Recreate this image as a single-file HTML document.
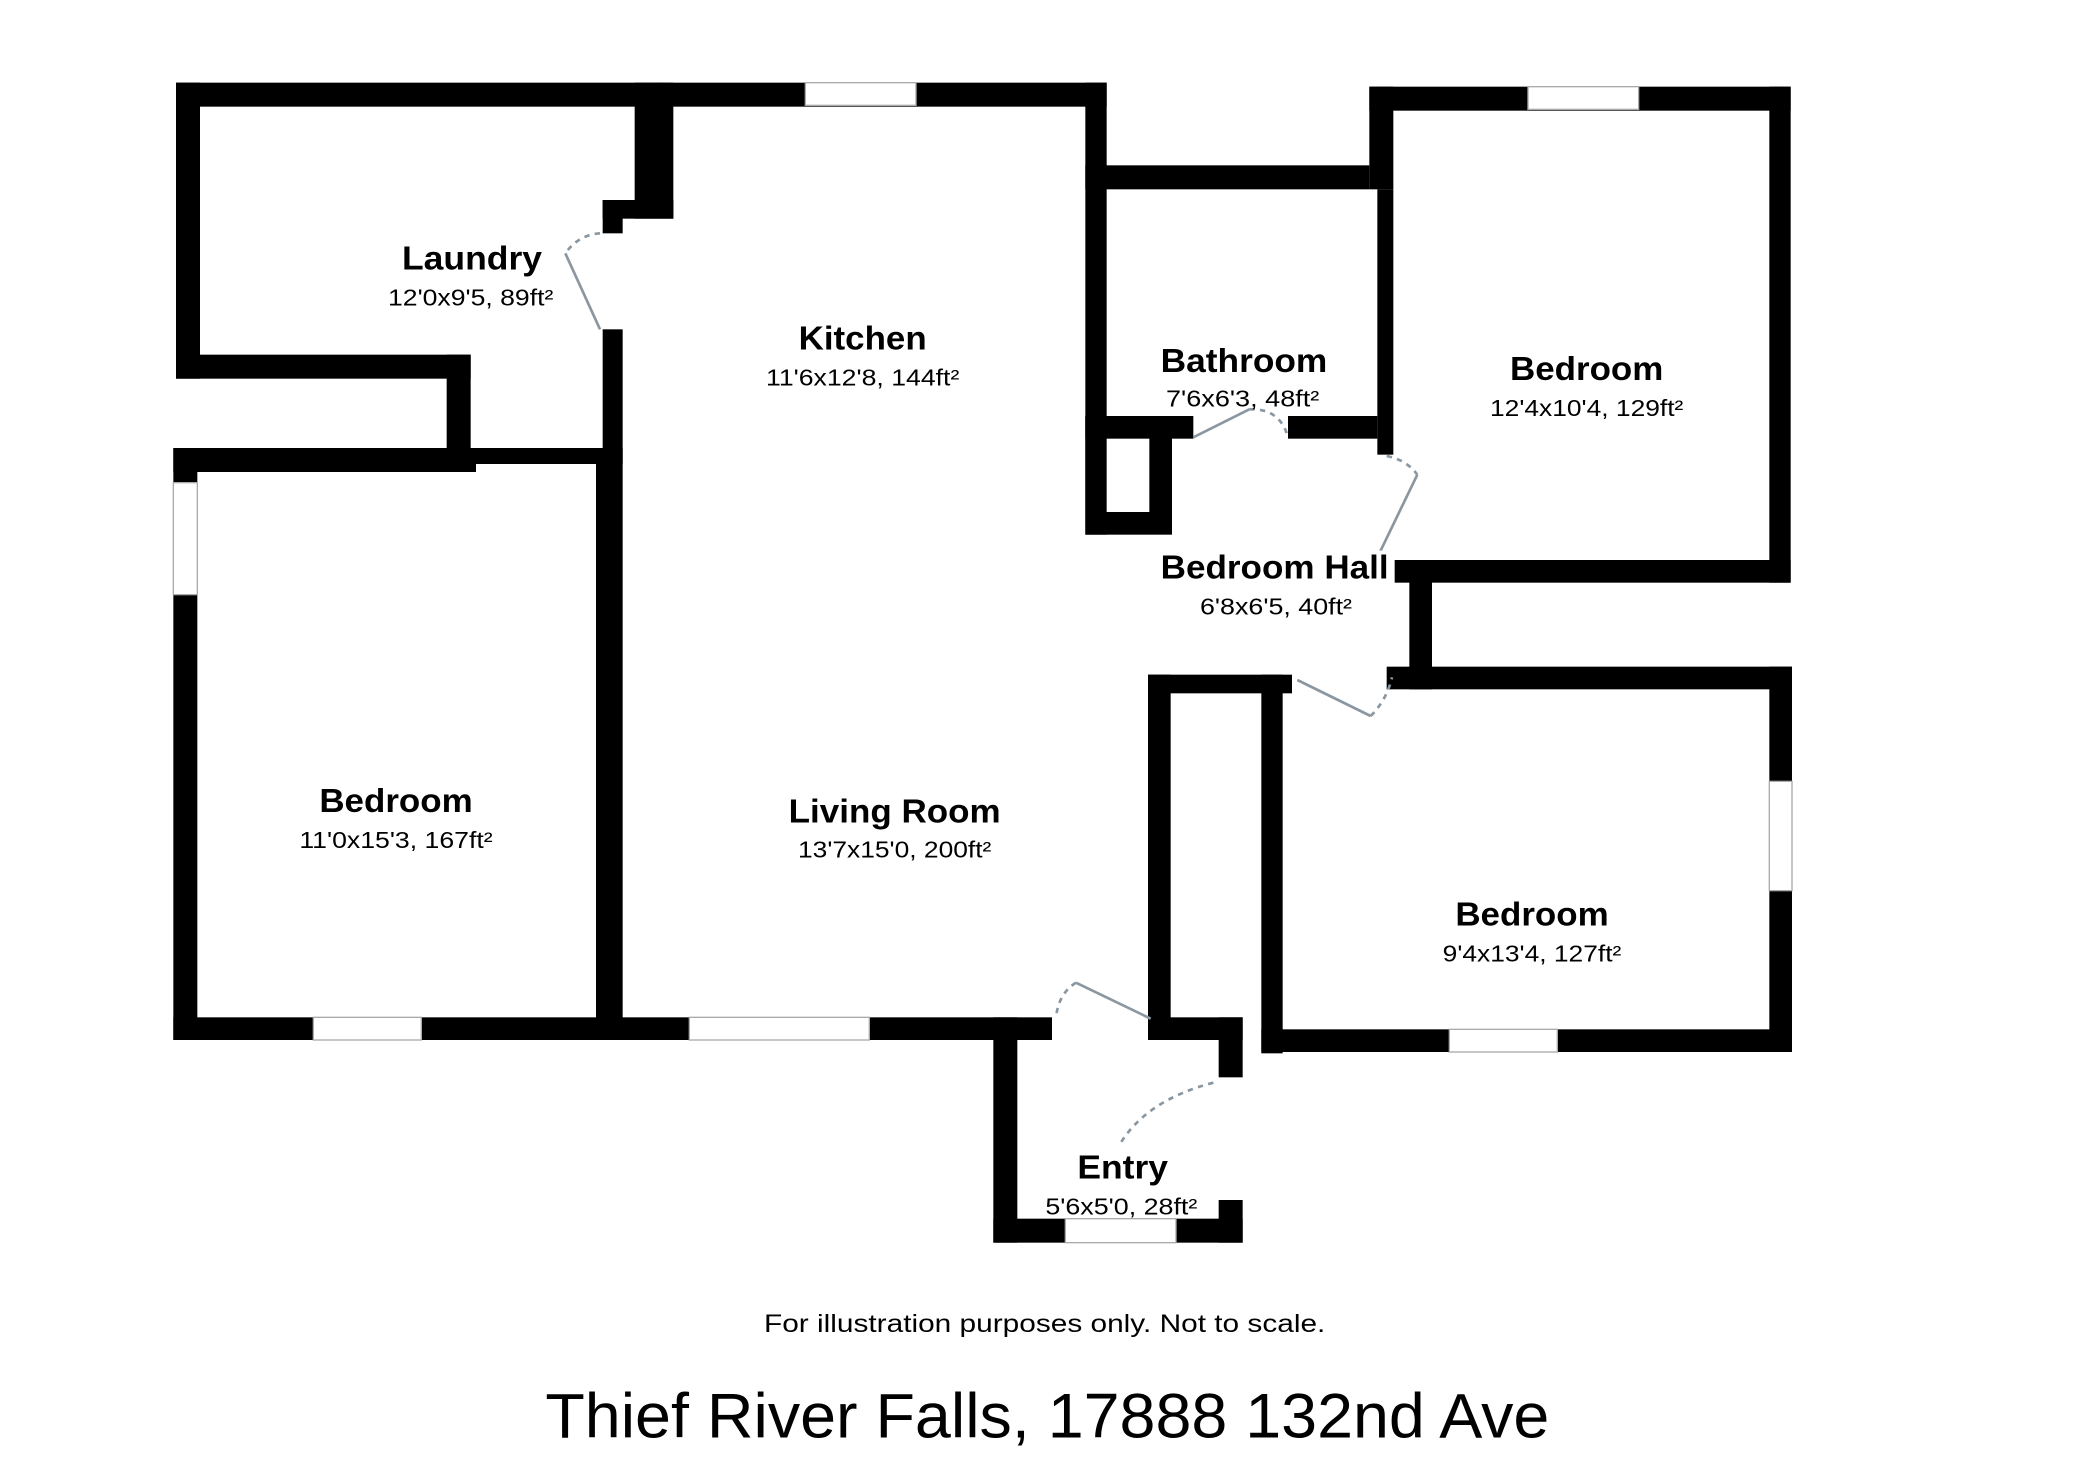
<!DOCTYPE html>
<html><head><meta charset="utf-8"><style>
html,body{margin:0;padding:0;background:#fff;}
svg{display:block;}
.b{font-family:"Liberation Sans",Arial,sans-serif;font-weight:bold;font-size:25px;fill:#000;}
.s{font-family:"Liberation Sans",Arial,sans-serif;font-size:17px;fill:#000;}
</style></head><body>
<svg width="2080" height="1471" viewBox="0 0 1560 1103.25" xmlns="http://www.w3.org/2000/svg">
<rect x="0" y="0" width="1560" height="1104" fill="#fff"/>
<g fill="#000">
<rect x="132" y="62" width="365" height="18"/>
<rect x="494" y="62" width="336" height="18"/>
<rect x="132" y="62" width="18" height="222"/>
<rect x="132" y="266" width="221" height="18"/>
<rect x="335" y="266" width="18" height="88"/>
<rect x="130" y="336" width="227" height="18"/>
<rect x="353" y="336" width="114" height="12"/>
<rect x="476" y="62" width="29" height="102"/>
<rect x="452" y="150" width="53" height="14"/>
<rect x="452" y="150" width="15" height="25"/>
<rect x="452" y="247" width="15" height="101"/>
<rect x="447" y="348" width="20" height="432"/>
<rect x="130" y="336" width="18" height="444"/>
<rect x="130" y="763" width="659" height="17"/>
<rect x="814" y="62" width="16" height="339"/>
<rect x="814" y="124" width="213" height="18"/>
<rect x="1027" y="65" width="316" height="18"/>
<rect x="1027" y="65" width="18" height="77"/>
<rect x="1033" y="142" width="12" height="199"/>
<rect x="1327" y="65" width="16" height="372"/>
<rect x="1032" y="420" width="311" height="17"/>
<rect x="814" y="312" width="81" height="17"/>
<rect x="966" y="312" width="67" height="17"/>
<rect x="814" y="312" width="65" height="89"/>
<rect x="1057" y="420" width="17" height="97"/>
<rect x="1040" y="500" width="304" height="17"/>
<rect x="861" y="506" width="108" height="14"/>
<rect x="861" y="506" width="17" height="273"/>
<rect x="946" y="506" width="16" height="284"/>
<rect x="861" y="763" width="71" height="17"/>
<rect x="914" y="763" width="18" height="45"/>
<rect x="1327" y="500" width="17" height="289"/>
<rect x="946" y="772" width="398" height="17"/>
<rect x="745" y="763" width="18" height="169"/>
<rect x="745" y="914" width="187" height="18"/>
<rect x="914" y="900" width="18" height="32"/>
</g>
<rect x="830" y="329" width="32" height="55" fill="#fff"/>
<g fill="#fff" stroke="#aaa" stroke-width="1">
<rect x="604" y="62" width="83" height="17"/>
<rect x="1146" y="65" width="83" height="17"/>
<rect x="130" y="362" width="18" height="84"/>
<rect x="235" y="763" width="81" height="17"/>
<rect x="517" y="763" width="135" height="17"/>
<rect x="1327" y="586" width="17" height="82"/>
<rect x="1087" y="772" width="81" height="17"/>
<rect x="799" y="914" width="83" height="18"/>
</g>
<g fill="none" stroke="#8a96a0" stroke-width="2">
<line x1="424" y1="190" x2="450" y2="247"/>
<path d="M450 175 Q434 176 424 190" stroke-dasharray="4 4"/>
<line x1="895" y1="328" x2="937" y2="307"/>
<path d="M937 307 Q960 306 966 328" stroke-dasharray="4 4"/>
<line x1="1063" y1="356" x2="1034" y2="416"/>
<path d="M1040 342 Q1055 345 1063 356" stroke-dasharray="4 4"/>
<line x1="973" y1="510" x2="1028" y2="537"/>
<path d="M1028 537 Q1040 525 1044 508" stroke-dasharray="4 4"/>
<line x1="807" y1="737" x2="863" y2="764"/>
<path d="M807 737 Q794 745 792 763" stroke-dasharray="4 4"/>
<path d="M910 812 Q860 825 840 858" stroke-dasharray="4 4"/>
</g>
<rect x="1028" y="413" width="18" height="29" rx="5" fill="#fff"/>
<g text-anchor="middle">
<text class="b" x="354" y="202" textLength="105" lengthAdjust="spacingAndGlyphs">Laundry</text>
<text class="s" x="353" y="229" textLength="124" lengthAdjust="spacingAndGlyphs">12'0x9'5, 89ft²</text>
<text class="b" x="647" y="262" textLength="96" lengthAdjust="spacingAndGlyphs">Kitchen</text>
<text class="s" x="647" y="289" textLength="145" lengthAdjust="spacingAndGlyphs">11'6x12'8, 144ft²</text>
<text class="b" x="933" y="279" textLength="125" lengthAdjust="spacingAndGlyphs">Bathroom</text>
<text class="s" x="932" y="305" textLength="115" lengthAdjust="spacingAndGlyphs">7'6x6'3, 48ft²</text>
<text class="b" x="1190" y="285" textLength="115" lengthAdjust="spacingAndGlyphs">Bedroom</text>
<text class="s" x="1190" y="312" textLength="145" lengthAdjust="spacingAndGlyphs">12'4x10'4, 129ft²</text>
<text class="b" x="956" y="434" textLength="171" lengthAdjust="spacingAndGlyphs">Bedroom Hall</text>
<text class="s" x="957" y="461" textLength="114" lengthAdjust="spacingAndGlyphs">6'8x6'5, 40ft²</text>
<text class="b" x="297" y="609" textLength="115" lengthAdjust="spacingAndGlyphs">Bedroom</text>
<text class="s" x="297" y="636" textLength="145" lengthAdjust="spacingAndGlyphs">11'0x15'3, 167ft²</text>
<text class="b" x="671" y="617" textLength="159" lengthAdjust="spacingAndGlyphs">Living Room</text>
<text class="s" x="671" y="643" textLength="145" lengthAdjust="spacingAndGlyphs">13'7x15'0, 200ft²</text>
<text class="b" x="1149" y="694" textLength="115" lengthAdjust="spacingAndGlyphs">Bedroom</text>
<text class="s" x="1149" y="721" textLength="134" lengthAdjust="spacingAndGlyphs">9'4x13'4, 127ft²</text>
<text class="b" x="842" y="884" textLength="68" lengthAdjust="spacingAndGlyphs">Entry</text>
<text class="s" x="841" y="911" textLength="114" lengthAdjust="spacingAndGlyphs">5'6x5'0, 28ft²</text>
<text x="783.5" y="999" font-family="Liberation Sans, Arial, sans-serif" font-size="19" textLength="421" lengthAdjust="spacingAndGlyphs">For illustration purposes only. Not to scale.</text>
<text x="785.5" y="1078" font-family="Liberation Sans, Arial, sans-serif" font-size="47" textLength="753" lengthAdjust="spacingAndGlyphs">Thief River Falls, 17888 132nd Ave</text>
</g>
</svg>
</body></html>
